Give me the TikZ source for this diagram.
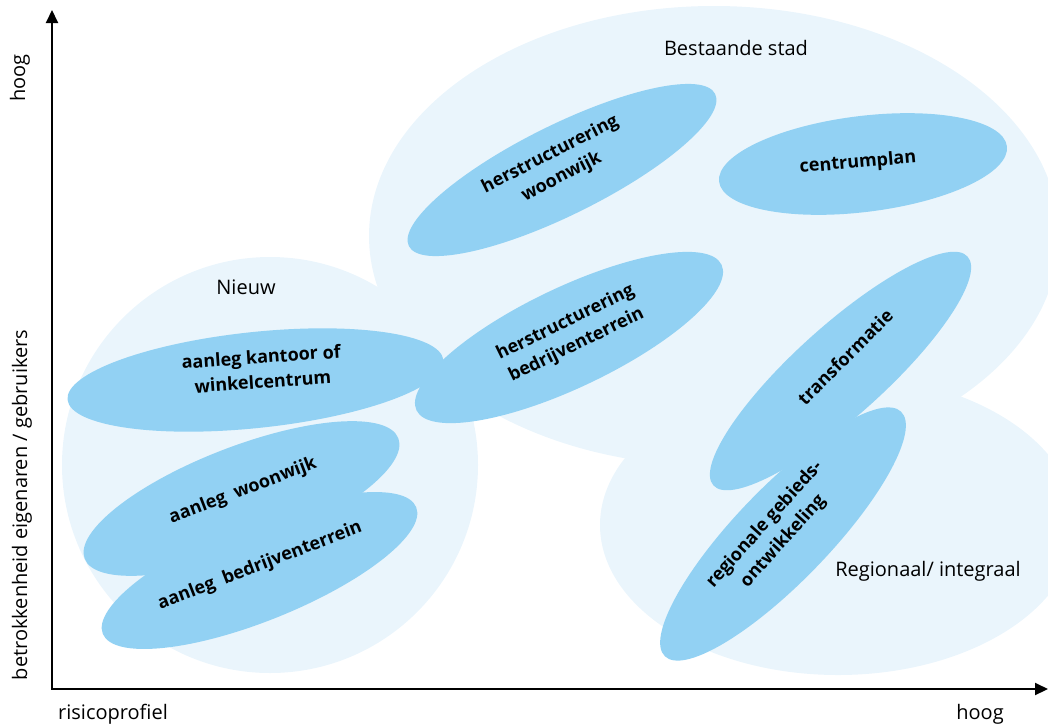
\documentclass[tikz,border=0pt]{standalone}
\usepackage{fontspec}
\setmainfont{Open Sans}
\usetikzlibrary{shapes.geometric,arrows.meta}
\definecolor{bglight}{RGB}{234,245,252}
\definecolor{blob}{RGB}{146,209,243}
\begin{document}
\begin{tikzpicture}[x=1pt,y=-1pt,
  area/.style={fill=bglight},
  blobshape/.style={ellipse, fill=blob, draw=none, inner sep=0pt},
  blobtext/.style={font=\fontsize{18}{25}\selectfont\bfseries, align=center, inner sep=0pt},
  plain/.style={font=\fontsize{20}{24}\selectfont, inner sep=0pt},
  axis/.style={line width=2pt, line cap=rect, -{Triangle[length=13pt,width=12pt]}}]
\useasboundingbox (0,0) rectangle (1048,726);
% background regions
\fill[area] (270,465) circle [radius=208pt];
\fill[area] (714,236) ellipse [x radius=345pt, y radius=230pt];
\fill[area] (838,525) ellipse [x radius=238pt, y radius=150pt];
% blobs
\node[blobshape, minimum width=342pt, minimum height=90pt, rotate=26.4] (hw) at (562,170) {};
\node[blobshape, minimum width=290pt, minimum height=96pt, rotate=7] (cp) at (863,164) {};
\node[blobshape, minimum width=338pt, minimum height=100pt, rotate=25.5] (hb) at (569,337.5) {};
\node[blobshape, minimum width=378pt, minimum height=96pt, rotate=6] (kw) at (255.5,380) {};
\node[blobshape, minimum width=336pt, minimum height=104pt, rotate=21] (aw) at (241.5,498.5) {};
\node[blobshape, minimum width=338pt, minimum height=100pt, rotate=22] (ab) at (259.5,570.5) {};
\node[blobshape, minimum width=342pt, minimum height=90pt, rotate=42] (tf) at (840.5,371) {};
\node[blobshape, minimum width=340pt, minimum height=94pt, rotate=46] (rg) at (783,534) {};
% blob texts
\node[blobtext, rotate=27] (hwt) at (556,166) {herstructurering\\woonwijk};
\node[blobtext, rotate=5] (cpt) at (858,163) {centrumplan};
\node[blobtext, rotate=26] (hbt) at (571,334) {herstructurering\\bedrijventerrein};
\node[blobtext, rotate=4] (kwt) at (262,369) {aanleg kantoor of\\winkelcentrum};
\node[blobtext, rotate=21] (awt) at (243,491) {aanleg\ \ woonwijk};
\node[blobtext, rotate=21] (abt) at (260,566) {aanleg\ \ bedrijventerrein};
\node[blobtext, rotate=45] (tft) at (845,357) {transformatie};
\node[blobtext, rotate=48] (rgt) at (774,533) {regionale gebieds-\\ontwikkeling};
% region labels
\node[plain] (nieuw) at (246,287) {Nieuw};
\node[plain] (bestaande) at (736,48) {Bestaande stad};
\node[plain] (regionaal) at (928,571) {Regionaal/ integraal};
% axes
\coordinate (origin) at (52,689);
\coordinate (ytop) at (52,10);
\coordinate (xend) at (1048,689);
\draw[axis] (origin) -- (ytop);
\draw[axis] (origin) -- (xend);
\node[plain] (risico) at (113,714) {risicoprofiel};
\node[plain] (hoogx) at (980,714) {hoog};
\node[plain, rotate=90] (hoogy) at (20,78) {hoog};
\node[plain, rotate=90] (betr) at (22,505) {betrokkenheid eigenaren / gebruikers};
\end{tikzpicture}
\end{document}
